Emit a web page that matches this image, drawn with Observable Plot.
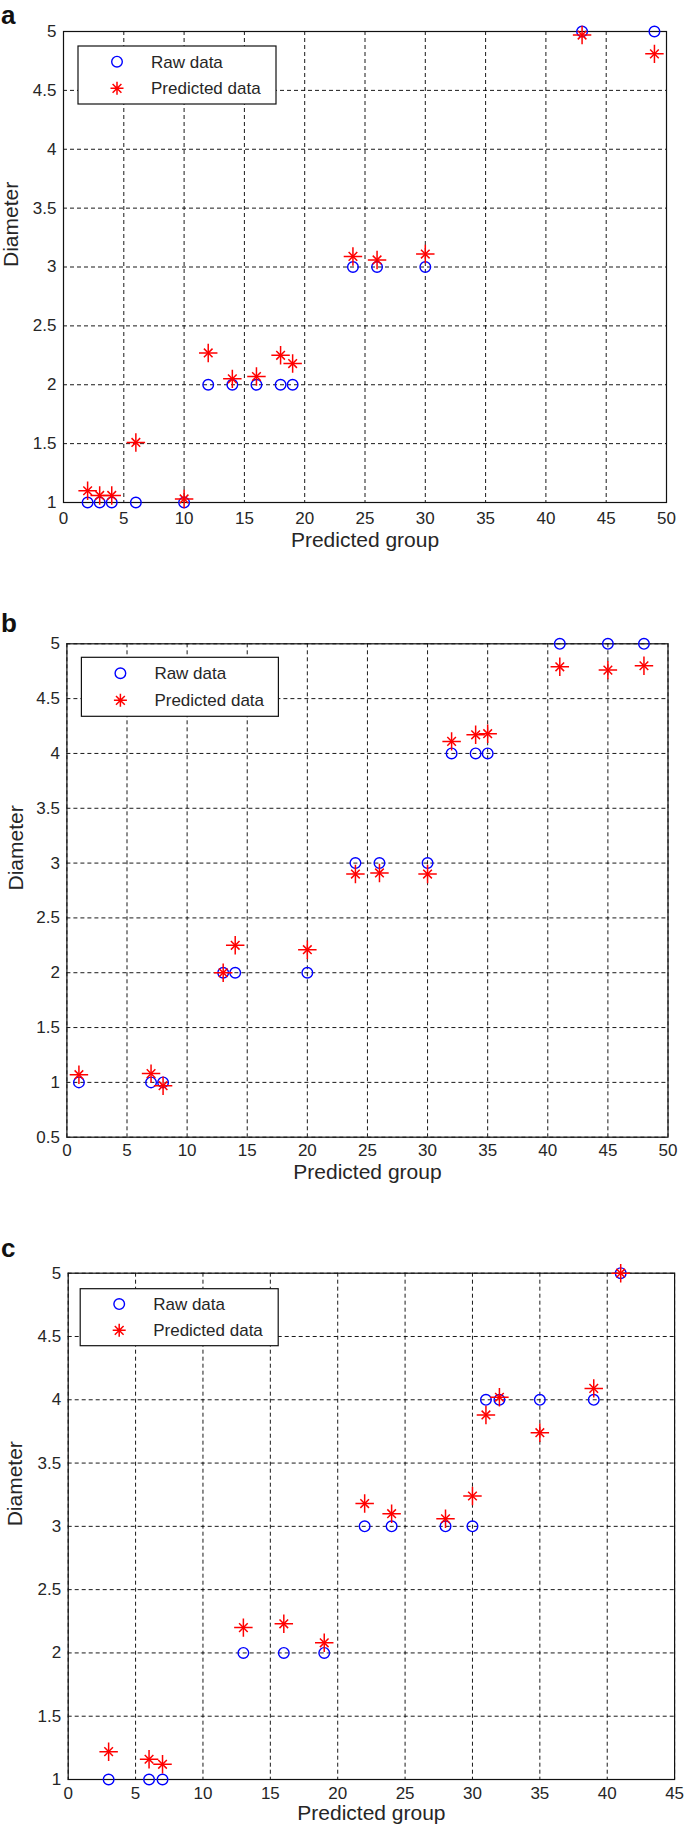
<!DOCTYPE html>
<html><head><meta charset="utf-8">
<script src="https://cdn.jsdelivr.net/npm/d3@7"></script>
<script src="https://cdn.jsdelivr.net/npm/@observablehq/plot@0.6"></script>
<style>
body{margin:0;background:#fff;}
#root{position:relative;width:685px;height:1834px;overflow:hidden;font-family:"Liberation Sans",Arial,Helvetica,sans-serif;background:#fff;}
.panel{position:absolute;left:0;}
#overlay{position:absolute;left:0;top:0;pointer-events:none;}
</style></head><body><div id="root"></div>
<script>
// ---- data ----
const xLabel = "Predicted group";
const yLabel = "Diameter";
const legendLabels = ["Raw data", "Predicted data"];
const panelLetters = ["a", "b", "c"];

const aGroups = [2, 3, 4, 6, 10, 12, 14, 16, 18, 19, 24, 26, 30, 43, 49];
const aRaw    = [1, 1, 1, 1, 1, 2, 2, 2, 2, 2, 3, 3, 3, 5, 5];
const aPred   = [1.10, 1.06, 1.06, 1.51, 1.03, 2.27, 2.05, 2.07, 2.25, 2.18, 3.09, 3.06, 3.11, 4.97, 4.81];
const aXTicks = [0, 5, 10, 15, 20, 25, 30, 35, 40, 45, 50];
const aYTicks = [1, 1.5, 2, 2.5, 3, 3.5, 4, 4.5, 5];

const bGroups = [1, 7, 8, 13, 14, 20, 24, 26, 30, 32, 34, 35, 41, 45, 48];
const bRaw    = [1, 1, 1, 2, 2, 2, 3, 3, 3, 4, 4, 4, 5, 5, 5];
const bPred   = [1.07, 1.08, 0.97, 2.00, 2.25, 2.21, 2.90, 2.91, 2.90, 4.11, 4.17, 4.18, 4.79, 4.76, 4.80];
const bXTicks = [0, 5, 10, 15, 20, 25, 30, 35, 40, 45, 50];
const bYTicks = [0.5, 1, 1.5, 2, 2.5, 3, 3.5, 4, 4.5, 5];

const cGroups = [3, 6, 7, 13, 16, 19, 22, 24, 28, 30, 31, 32, 35, 39, 41];
const cRaw    = [1, 1, 1, 2, 2, 2, 3, 3, 3, 3, 4, 4, 4, 4, 5];
const cPred   = [1.22, 1.16, 1.12, 2.20, 2.23, 2.08, 3.18, 3.10, 3.06, 3.24, 3.88, 4.02, 3.74, 4.09, 5.00];
const cXTicks = [0, 5, 10, 15, 20, 25, 30, 35, 40, 45];
const cYTicks = [1, 1.5, 2, 2.5, 3, 3.5, 4, 4.5, 5];

// ---- layout ----
const FONT = '"Liberation Sans", Arial, Helvetica, sans-serif';
const INK = "#262626";
const BLUE = "#0000ff";
const RED = "#ff0000";
const fmt = d => String(d);

const panels = [
  {letter: panelLetters[0], top: 0, height: 560, ml: 63, mr: 19, mt: 31, mb: 58,
   xDomain: [0, 50], yDomain: [1, 5], xTicks: aXTicks, yTicks: aYTicks,
   groups: aGroups, raw: aRaw, pred: aPred, xPad: 9, xLabelDy: 44, yLabelDx: -52,
   letterY: 24, lg: {dx: 15, dy: 15, w: 198, h: 58}},
  {letter: panelLetters[1], top: 600, height: 600, ml: 66.4, mr: 17.5, mt: 43.3, mb: 63.3,
   xDomain: [0, 50], yDomain: [0.5, 5], xTicks: bXTicks, yTicks: bYTicks,
   groups: bGroups, raw: bRaw, pred: bPred, xPad: 7, xLabelDy: 42, yLabelDx: -51,
   letterY: 632, lg: {dx: 15, dy: 14, w: 197, h: 59}},
  {letter: panelLetters[2], top: 1230, height: 604, ml: 67.7, mr: 10.9, mt: 42.7, mb: 55,
   xDomain: [0, 45], yDomain: [1, 5], xTicks: cXTicks, yTicks: cYTicks,
   groups: cGroups, raw: cRaw, pred: cPred, xPad: 7, xLabelDy: 40, yLabelDx: -52.5,
   letterY: 1257, lg: {dx: 12.5, dy: 16, w: 198, h: 57}}
];

const root = document.getElementById("root");

for (const p of panels) {
  const data = p.groups.map((g, i) => ({group: g, raw: p.raw[i], pred: p.pred[i]}));
  const gridStyle = {stroke: "#000", strokeOpacity: 0.9, strokeWidth: 1, strokeDasharray: "4,3"};
  const svg = Plot.plot({
    width: 685, height: p.height,
    marginLeft: p.ml, marginRight: p.mr, marginTop: p.mt, marginBottom: p.mb,
    x: {domain: p.xDomain},
    y: {domain: p.yDomain},
    style: {fontFamily: FONT, fontSize: "17px", color: INK, background: "transparent", overflow: "visible"},
    marks: [
      Plot.gridX(p.xTicks, gridStyle),
      Plot.gridY(p.yTicks, gridStyle),
      Plot.frame({stroke: "#111", strokeWidth: 1.2}),
      Plot.axisX(p.xTicks, {tickSize: 0, tickPadding: p.xPad, fontSize: 17, label: null, fill: INK, tickFormat: fmt}),
      Plot.axisY(p.yTicks, {tickSize: 0, tickPadding: 7, fontSize: 17, label: null, fill: INK, tickFormat: fmt}),
      Plot.text([xLabel], {text: d => d, frameAnchor: "bottom", dy: p.xLabelDy, fontSize: 21, fill: INK}),
      Plot.text([yLabel], {text: d => d, frameAnchor: "left", rotate: -90, dx: p.yLabelDx, fontSize: 21, fill: INK}),
      Plot.dot(data, {x: "group", y: "raw", r: 5.3, stroke: BLUE, strokeWidth: 1.4, fill: "none"}),
      Plot.dot(data, {x: "group", y: "pred", symbol: "plus", r: 6, stroke: RED, strokeWidth: 1.5}),
      Plot.dot(data, {x: "group", y: "pred", symbol: "times", r: 4, stroke: RED, strokeWidth: 1.5})
    ]
  });
  const div = document.createElement("div");
  div.className = "panel";
  div.style.top = p.top + "px";
  div.appendChild(svg);
  root.appendChild(div);
}

// ---- overlay: panel letters and legends ----
const NS = "http://www.w3.org/2000/svg";
const ov = document.createElementNS(NS, "svg");
ov.setAttribute("id", "overlay");
ov.setAttribute("width", 685);
ov.setAttribute("height", 1834);
function el(tag, attrs, parent) {
  const e = document.createElementNS(NS, tag);
  for (const k in attrs) e.setAttribute(k, attrs[k]);
  parent.appendChild(e);
  return e;
}
for (const p of panels) {
  const t = el("text", {x: 1, y: p.letterY, "font-family": FONT, "font-size": 26, "font-weight": "bold", fill: "#111"}, ov);
  t.textContent = p.letter;
  const bx = p.ml + p.lg.dx, by = p.top + p.mt + p.lg.dy;
  el("rect", {x: bx, y: by, width: p.lg.w, height: p.lg.h, fill: "#fff", stroke: "#111", "stroke-width": 1.2}, ov);
  const rows = [by + p.lg.h * 0.27, by + p.lg.h * 0.73];
  const mx = bx + 39;
  el("circle", {cx: mx, cy: rows[0], r: 5.3, fill: "none", stroke: BLUE, "stroke-width": 1.4}, ov);
  el("path", {d: `M${mx},${rows[1]-6.5}V${rows[1]+6.5}M${mx-6.5},${rows[1]}H${mx+6.5}M${mx-4.4},${rows[1]-4.4}L${mx+4.4},${rows[1]+4.4}M${mx-4.4},${rows[1]+4.4}L${mx+4.4},${rows[1]-4.4}`, fill: "none", stroke: RED, "stroke-width": 1.5}, ov);
  legendLabels.forEach((lab, i) => {
    const tt = el("text", {x: bx + 73, y: rows[i] + 6, "font-family": FONT, "font-size": 17, fill: INK}, ov);
    tt.textContent = lab;
  });
}
root.appendChild(ov);
</script></body></html>
